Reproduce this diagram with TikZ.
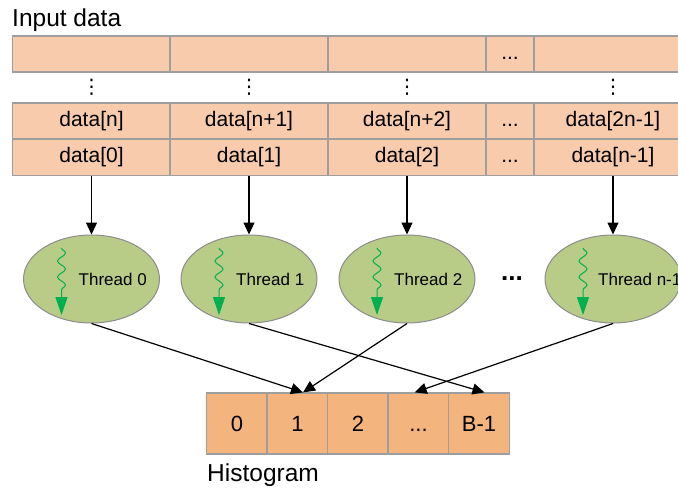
\documentclass[tikz,border=0pt]{standalone}
\usepackage{fontspec}
\setmainfont{Liberation Sans}
\newfontfamily\symfont{DejaVu Sans}
\usetikzlibrary{arrows.meta,positioning,calc,shapes.geometric,decorations.pathmorphing}
\usepackage{xcolor}
\definecolor{peach}{HTML}{F8CBAD}
\definecolor{binfill}{HTML}{F4B47E}
\definecolor{olivefill}{HTML}{B8CC88}
\definecolor{threadgreen}{HTML}{00B050}

\begin{document}
\begin{tikzpicture}[x=1pt, y=-1pt,
    cell/.style={
        draw=black!38, line width=1.2pt, fill=peach,
        minimum width=#1, minimum height=36pt, inner sep=0pt,
        text height=15pt, text depth=4.5pt,
        font=\fontsize{21}{24}\selectfont
    },
    cell/.default=158pt,
    bin/.style={
        draw=black!38, line width=1.2pt, fill=binfill,
        minimum size=61pt, inner sep=0pt,
        text height=16pt, text depth=0pt,
        font=\fontsize{22}{25}\selectfont
    },
    thread/.style={
        ellipse, draw=black!45, line width=1pt, fill=olivefill,
        minimum width=136pt, minimum height=88pt
    },
    vdot/.style={font=\symfont\fontsize{20}{22}\selectfont, inner sep=0pt},
    tlabel/.style={font=\fontsize{17}{20}\selectfont, anchor=west, inner sep=0pt},
    title/.style={font=\fontsize{24.5}{28}\selectfont, anchor=base west, inner sep=0pt},
    squig/.style={
        threadgreen, line width=1pt, decorate,
        decoration={snake, amplitude=4pt, segment length=16pt, post length=20pt},
        -{Triangle[length=18pt,width=12pt]}
    },
    arrow/.style={
        -{Triangle[length=12pt,width=11pt]}, line width=1.2pt, black
    }
]
\clip (0,0) rectangle (678,488);

% Input data block
\node[title] (intitle) at (12,26.5) {Input data};

\node[cell] (t0) at (91.5,54) {};
\node[cell] (t1) at (249,54) {};
\node[cell] (t2) at (407,54) {};
\node[cell=48pt] (t3) at (510,54) {...};
\node[cell] (t4) at (613,54) {};

\node[vdot] (v0) at (91.5,87) {⋮};
\node[vdot] (v1) at (249,87) {⋮};
\node[vdot] (v2) at (407,87) {⋮};
\node[vdot] (v4) at (613,87) {⋮};

\node[cell] (n0) at (91.5,121) {data[n]};
\node[cell] (n1) at (249,121) {data[n+1]};
\node[cell] (n2) at (407,121) {data[n+2]};
\node[cell=48pt] (n3) at (510,121) {...};
\node[cell] (n4) at (613,121) {data[2n-1]};

\node[cell] (z0) at (91.5,157.5) {data[0]};
\node[cell] (z1) at (249,157.5) {data[1]};
\node[cell] (z2) at (407,157.5) {data[2]};
\node[cell=48pt] (z3) at (510,157.5) {...};
\node[cell] (z4) at (613,157.5) {data[n-1]};

% Threads
\node[thread] (th0) at (91.5,279) {};
\node[thread] (th1) at (249,279) {};
\node[thread] (th2) at (407,279) {};
\node[thread] (th3) at (613,279) {};

\node[tlabel, xshift=-13pt] (tl0) at (th0.center) {Thread 0};
\node[tlabel, xshift=-13pt] (tl1) at (th1.center) {Thread 1};
\node[tlabel, xshift=-13pt] (tl2) at (th2.center) {Thread 2};
\node[tlabel, xshift=-15pt] (tl3) at (th3.center) {Thread n-1};

\draw[squig] ($(th0.center)+(-30,-31)$) -- ++(0,67);
\draw[squig] ($(th1.center)+(-30,-31)$) -- ++(0,67);
\draw[squig] ($(th2.center)+(-30,-31)$) -- ++(0,67);
\draw[squig] ($(th3.center)+(-30,-31)$) -- ++(0,67);

\node[font=\fontsize{26}{28}\selectfont\bfseries] (tdots) at (512,279) {...};

% Histogram bins
\node[bin] (h0) at (237,423.5) {0};
\node[bin] (h1) at (297.5,423.5) {1};
\node[bin] (h2) at (358,423.5) {2};
\node[bin] (h3) at (418.5,423.5) {...};
\node[bin] (h4) at (479,423.5) {B-1};

\node[title] (htitle) at (207,481.5) {Histogram};

% Data to threads
\draw[arrow] (z0.south) -- (th0.north);
\draw[arrow] (z1.south) -- (th1.north);
\draw[arrow] (z2.south) -- (th2.north);
\draw[arrow] (z4.south) -- (th3.north);

% Threads to bins
\draw[arrow] (th0.south) -- (h1.80);
\draw[arrow] (th1.south) -- (h4.80);
\draw[arrow] (th2.south) -- (h1.80);
\draw[arrow] (th3.south) -- (h3.97);

\end{tikzpicture}
\end{document}
